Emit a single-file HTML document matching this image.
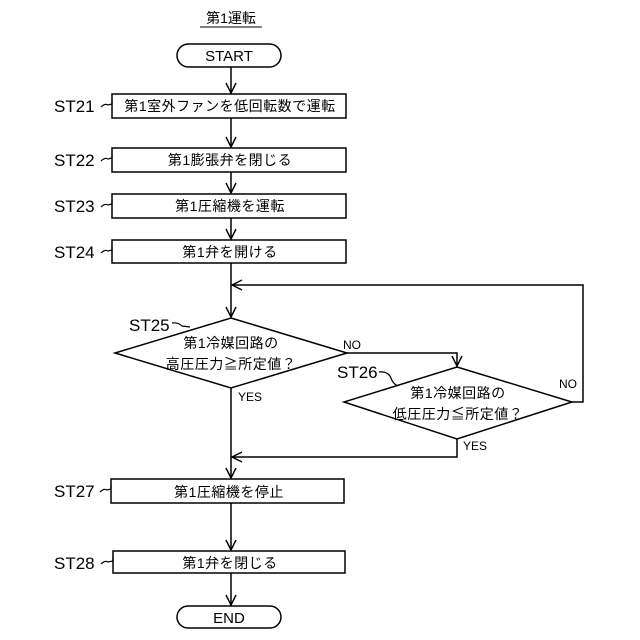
<!DOCTYPE html>
<html><head><meta charset="utf-8"><style>
html,body{margin:0;padding:0;background:#fff;}
svg{display:block;}
text{font-family:"Liberation Sans","Noto Sans CJK JP",sans-serif;fill:#000;}
</style></head><body>
<svg width="640" height="640" viewBox="0 0 640 640" xmlns="http://www.w3.org/2000/svg">
<g stroke="#000" stroke-width="1.5" fill="none">
<line x1="200" y1="27" x2="262" y2="27" stroke-width="1"/>
<rect x="177" y="44" width="104" height="23" rx="11.5" fill="#fff"/>
<rect x="112" y="94" width="234" height="24"/>
<rect x="112" y="148" width="234" height="24"/>
<rect x="112" y="194" width="234" height="24"/>
<rect x="112" y="240" width="234" height="23"/>
<rect x="111" y="479" width="233" height="24"/>
<rect x="113" y="551" width="232" height="22"/>
<rect x="177" y="606" width="104" height="22" rx="11" fill="#fff"/>
<polygon points="231,318 347,353 231,388 115,353"/>
<polygon points="457,367 572,402 457,439 344,402"/>
<line x1="231" y1="67" x2="231" y2="93"/>
<line x1="231" y1="118" x2="231" y2="147"/>
<line x1="231" y1="172" x2="231" y2="193"/>
<line x1="231" y1="218" x2="231" y2="239"/>
<line x1="231" y1="263" x2="231" y2="317"/>
<polyline points="572,402 583,402 583,285 232,285"/>
<polyline points="347,353 457,353 457,366"/>
<polyline points="457,439 457,457 232,457"/>
<line x1="231" y1="388" x2="231" y2="478"/>
<line x1="231" y1="503" x2="231" y2="550"/>
<line x1="231" y1="573" x2="231" y2="605"/>
</g>
<g stroke="#000" stroke-width="1.4" fill="none">
<path d="M226,83 L231,93 L236,83"/>
<path d="M226,137 L231,147 L236,137"/>
<path d="M226,183 L231,193 L236,183"/>
<path d="M226,229 L231,239 L236,229"/>
<path d="M226,307 L231,317 L236,307"/>
<path d="M226,468 L231,478 L236,468"/>
<path d="M226,540 L231,550 L236,540"/>
<path d="M226,595 L231,605 L236,595"/>
<path d="M452,356 L457,366 L462,356"/>
<path d="M242,280 L232,285 L242,290"/>
<path d="M242,452 L232,457 L242,462"/>
</g>
<g stroke="#000" stroke-width="1.2" fill="none">
<path d="M101,107 Q105,103 108,105 L112,104 L112,100"/>
<path d="M101,161 Q105,157 108,159 L112,158 L112,154"/>
<path d="M101,207 Q105,203 108,205 L112,204 L112,200"/>
<path d="M101,253 Q105,249 108,251 L112,250 L112,246"/>
<path d="M100,492 Q104,488 107,490 L111,489 L111,485"/>
<path d="M101,564 Q105,560 108,562 L113,561 L113,557"/>
<path d="M172,323 Q178,322 182,326 L190,327"/>
<path d="M379,372 Q388,371 391,378 Q393,384 398,386"/>
</g>
<g font-size="15" text-anchor="middle">
<text x="231" y="23" font-size="14">第1運転</text>
<text x="229" y="61">START</text>
<text x="229" y="623">END</text>
</g>
<g font-size="14" text-anchor="middle" letter-spacing="0.5">
<text x="230" y="111">第1室外ファンを低回転数で運転</text>
<text x="230" y="165">第1膨張弁を閉じる</text>
<text x="230" y="211">第1圧縮機を運転</text>
<text x="230" y="257">第1弁を開ける</text>
<text x="229" y="497">第1圧縮機を停止</text>
<text x="230" y="568">第1弁を閉じる</text>
<text x="231" y="348">第1冷媒回路の</text>
<text x="231" y="369">高圧圧力≧所定値？</text>
<text x="458" y="398">第1冷媒回路の</text>
<text x="458" y="419">低圧圧力≦所定値？</text>
</g>
<g font-size="17">
<text x="54" y="112">ST21</text>
<text x="54" y="166">ST22</text>
<text x="54" y="212">ST23</text>
<text x="54" y="258">ST24</text>
<text x="54" y="497">ST27</text>
<text x="54" y="569">ST28</text>
<text x="129" y="331">ST25</text>
<text x="337" y="378">ST26</text>
</g>
<g font-size="12">
<text x="343" y="349">NO</text>
<text x="238" y="401">YES</text>
<text x="559" y="388">NO</text>
<text x="463" y="450">YES</text>
</g>
</svg>
</body></html>
